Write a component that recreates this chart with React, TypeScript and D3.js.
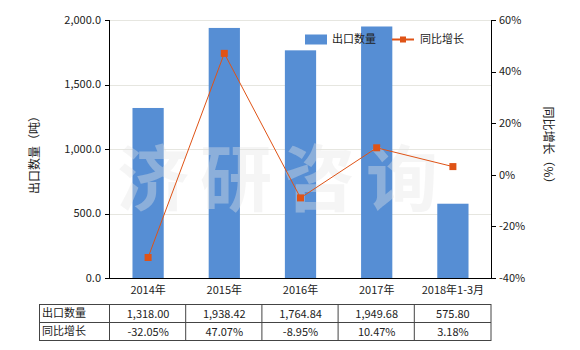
import React from "react";
import * as d3 from "d3";

const categories = ["2014年", "2015年", "2016年", "2017年", "2018年1-3月"];
const exportQty = [1318.0, 1938.42, 1764.84, 1949.68, 575.8];
const yoyGrowth = [-32.05, 47.07, -8.95, 10.47, 3.18];
const qtyLabels = ["1,318.00", "1,938.42", "1,764.84", "1,949.68", "575.80"];
const growthLabels = ["-32.05%", "47.07%", "-8.95%", "10.47%", "3.18%"];
const leftTicks = [0, 500, 1000, 1500, 2000];
const rightTicks = [-40, -20, 0, 20, 40, 60];
const watermark = ["济", "研", "咨", "询"];

const W = 580;
const H = 350;
const plot = { left: 110, right: 491, top: 20, bottom: 278 };
const BAR = "#568ED4";
const LINE = "#DF5316";
const FONT = "'Noto Sans CJK SC', 'Noto Sans', sans-serif";

export default function App() {
  const x = d3
    .scaleBand<string>()
    .domain(categories)
    .range([plot.left, plot.right])
    .paddingInner(0.59)
    .paddingOuter(0.295);
  const band = (plot.right - plot.left) / categories.length;
  const cx = (c: string) => plot.left + categories.indexOf(c) * band + band / 2;
  const yL = d3.scaleLinear().domain([0, 2000]).range([plot.bottom, plot.top]);
  const yR = d3.scaleLinear().domain([-40, 60]).range([plot.bottom, plot.top]);
  const fmtL = d3.format(",.1f");
  const bw = x.bandwidth();

  const line = d3
    .line<number>()
    .x((_, i) => cx(categories[i]))
    .y((d) => yR(d));

  const tTop = 304.5;
  const rowH = 18;
  const tLeft = 39.5;

  return (
    <svg width={W} height={H} style={{ position: "absolute", left: 0, top: 0, fontFamily: FONT }}>
      <rect width={W} height={H} fill="#fff" />
      {leftTicks.slice(1).map((t) => (
        <line key={t} x1={plot.left} x2={plot.right} y1={Math.round(yL(t)) + 0.5} y2={Math.round(yL(t)) + 0.5} stroke="#e6e6e0" />
      ))}
      {categories.map((c, i) => (
        <rect key={c} x={cx(c) - bw / 2} y={yL(exportQty[i])} width={bw} height={plot.bottom - yL(exportQty[i])} fill={BAR} />
      ))}
      {watermark.map((ch, i) => (
        <text key={ch} x={153 + i * 83} y={205} textAnchor="middle" fontSize={72} fontWeight="bold" fill="#e5e5e5" fillOpacity={0.38}>
          {ch}
        </text>
      ))}
      {/* left axis */}
      <line x1={plot.left - 0.5} x2={plot.left - 0.5} y1={plot.top} y2={plot.bottom} stroke="#000" />
      {leftTicks.map((t) => (
        <g key={t}>
          <line x1={plot.left - 5} x2={plot.left} y1={Math.round(yL(t)) + 0.5} y2={Math.round(yL(t)) + 0.5} stroke="#000" />
          <text x={plot.left - 9} y={yL(t)} dy="0.35em" textAnchor="end" fontSize={11} fill="#222">
            {fmtL(t)}
          </text>
        </g>
      ))}
      {/* right axis */}
      <line x1={plot.right + 0.5} x2={plot.right + 0.5} y1={plot.top} y2={plot.bottom} stroke="#000" />
      {rightTicks.map((t) => (
        <g key={t}>
          <line x1={plot.right} x2={plot.right + 5} y1={Math.round(yR(t)) + 0.5} y2={Math.round(yR(t)) + 0.5} stroke="#000" />
          <text x={plot.right + 8} y={yR(t)} dy="0.35em" textAnchor="start" fontSize={11} fill="#222">
            {t}%
          </text>
        </g>
      ))}
      {/* bottom axis */}
      <line x1={plot.left} x2={plot.right} y1={plot.bottom + 0.5} y2={plot.bottom + 0.5} stroke="#000" />
      {categories.map((c) => (
        <text key={c} x={cx(c)} y={290} dy="0.35em" textAnchor="middle" fontSize={11} fill="#222">
          {c}
        </text>
      ))}
      {/* line */}
      <path d={line(yoyGrowth) || ""} fill="none" stroke={LINE} strokeWidth={1} />
      {yoyGrowth.map((v, i) => (
        <rect key={i} x={cx(categories[i]) - 3.5} y={yR(v) - 3.5} width={7} height={7} fill={LINE} />
      ))}
      {/* axis titles */}
      <text transform={`translate(35,152) rotate(-90)`} textAnchor="middle" dy="0.35em" fontSize={12} fill="#222">
        出口数量（吨）
      </text>
      <text transform={`translate(548,148) rotate(90)`} textAnchor="middle" dy="0.35em" fontSize={12} fill="#222">
        同比增长（%）
      </text>
      {/* legend */}
      <rect x={305} y={34.5} width={22} height={10} fill={BAR} />
      <text x={332} y={39.5} dy="0.35em" fontSize={11} fill="#222">出口数量</text>
      <line x1={392} x2={414} y1={39.5} y2={39.5} stroke={LINE} strokeWidth={2} />
      <rect x={400} y={36.5} width={6} height={6} fill={LINE} />
      <text x={420} y={39.5} dy="0.35em" fontSize={11} fill="#222">同比增长</text>
      {/* table */}
      <g stroke="#444" fill="none">
        <rect x={tLeft} y={tTop} width={plot.right - tLeft} height={rowH * 2} />
        <line x1={tLeft} x2={plot.right} y1={tTop + rowH} y2={tTop + rowH} />
        {[0, 1, 2, 3, 4].map((i) => (
          <line key={i} x1={plot.left + i * band - 0.5} x2={plot.left + i * band - 0.5} y1={tTop} y2={tTop + rowH * 2} />
        ))}
      </g>
      <text x={42} y={tTop + rowH / 2} dy="0.35em" fontSize={11} fill="#222">出口数量</text>
      <text x={42} y={tTop + rowH * 1.5} dy="0.35em" fontSize={11} fill="#222">同比增长</text>
      {categories.map((c, i) => (
        <g key={c}>
          <text x={cx(c)} y={tTop + rowH / 2 + 1} dy="0.35em" textAnchor="middle" fontSize={11} fill="#222">
            {qtyLabels[i]}
          </text>
          <text x={cx(c)} y={tTop + rowH * 1.5 + 1} dy="0.35em" textAnchor="middle" fontSize={11} fill="#222">
            {growthLabels[i]}
          </text>
        </g>
      ))}
    </svg>
  );
}
